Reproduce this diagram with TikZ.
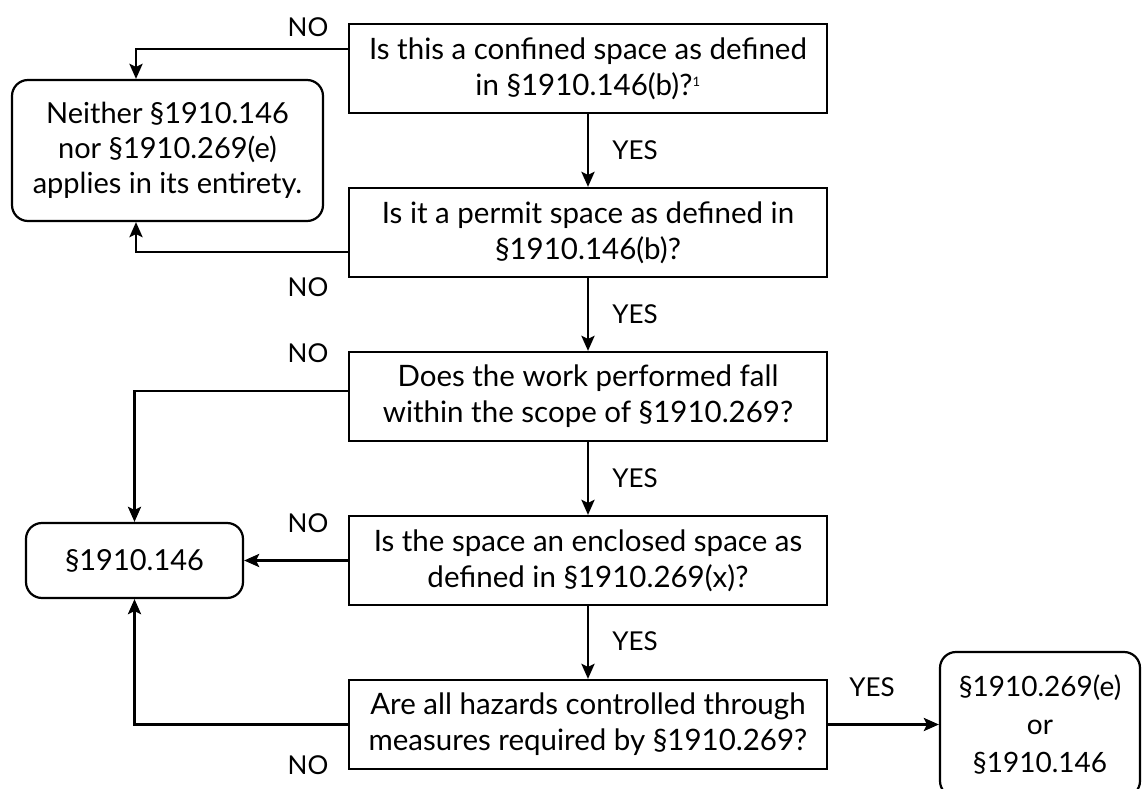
\documentclass[tikz,border=0pt]{standalone}
\usepackage{fontspec}
\setmainfont{Lato}
\usetikzlibrary{arrows.meta}
\begin{document}
\begin{tikzpicture}[x=1pt,y=-1pt,
  qbox/.style={draw, line width=2.2pt, minimum width=478pt, minimum height=89pt, inner sep=0pt, align=center, font=\fontsize{29.5}{36}\selectfont},
  rbox/.style={draw, line width=2.2pt, rounded corners=16pt, inner sep=0pt, align=center, font=\fontsize{29}{35}\selectfont},
  lbl/.style={inner sep=0pt, font=\fontsize{26}{28}\selectfont},
  arr/.style={line width=2.8pt, -{Stealth[length=15pt,width=13pt,inset=3pt]}}
]
\useasboundingbox (0,0) rectangle (1143,789);
\fill[white] (0,0) rectangle (1143,789);

\node[qbox] (q1) at (588,68.5) {Is this a confined space as defined\\in §1910.146(b)?\textsuperscript{\fontsize{13}{13}\selectfont 1}};
\node[qbox] (q2) at (588,232.5) {Is it a permit space as defined in\\§1910.146(b)?};
\node[qbox] (q3) at (588,396.5) {Does the work performed fall\\within the scope of §1910.269?};
\node[qbox] (q4) at (588,560.5) {Is the space an enclosed space as\\defined in §1910.269(x)?};
\node[qbox] (q5) at (588,724.5) {Are all hazards controlled through\\measures required by §1910.269?};

\node[rbox, minimum width=311pt, minimum height=141pt] (n1) at (167.5,150.5) {Neither §1910.146\\nor §1910.269(e)\\applies in its entirety.};
\node[rbox, minimum width=217pt, minimum height=75pt] (s146) at (134.5,560.5) {§1910.146};
\node[rbox, minimum width=200pt, minimum height=145pt, font=\fontsize{28}{38}\selectfont] (r) at (1040,724.5) {§1910.269(e)\\or\\§1910.146};

\draw[arr] (q1) -- (q2);
\draw[arr] (q2) -- (q3);
\draw[arr] (q3) -- (q4);
\draw[arr] (q4) -- (q5);
\draw[arr] (q5.east) -- (r.west);

\draw[arr] ([yshift=19.5pt]q1.west) -| ([xshift=-31.5pt]n1.north);
\draw[arr] ([yshift=-19.5pt]q2.west) -| ([xshift=-31.5pt]n1.south);
\draw[arr] ([yshift=5.5pt]q3.west) -| (s146.north);
\draw[arr] (q4.west) -- (s146.east);
\draw[arr] (q5.west) -| (s146.south);

\node[lbl] (no1) at (308,27) {NO};
\node[lbl] (no2) at (308,287) {NO};
\node[lbl] (no3) at (308,353) {NO};
\node[lbl] (no4) at (308,523) {NO};
\node[lbl] (no5) at (308,765) {NO};
\node[lbl] (y1) at (635,150) {YES};
\node[lbl] (y2) at (635,314) {YES};
\node[lbl] (y3) at (635,478) {YES};
\node[lbl] (y4) at (635,641) {YES};
\node[lbl] (y5) at (872,687) {YES};
\end{tikzpicture}
\end{document}
